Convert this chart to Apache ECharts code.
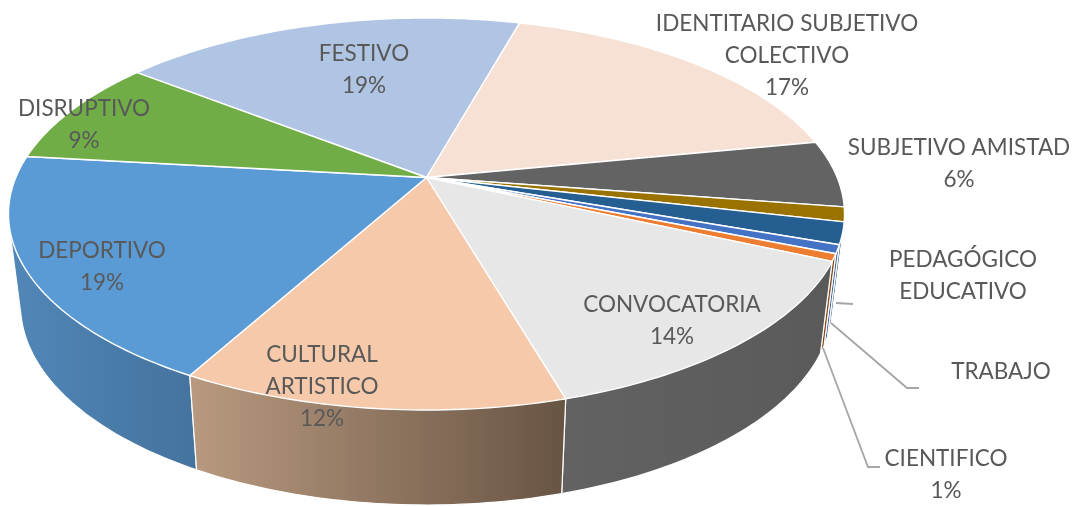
<!DOCTYPE html>
<html>
<head>
<meta charset="utf-8">
<style>html,body{margin:0;padding:0;background:#fff}#c{width:1083px;height:506px}</style>
<script src="https://cdn.jsdelivr.net/npm/echarts@6/dist/echarts.min.js"></script>
</head>
<body>
<div id="c"></div>
<script>
// ---- data (clockwise from the FESTIVO slice) ----
const categories = ['FESTIVO','IDENTITARIO SUBJETIVO COLECTIVO','SUBJETIVO AMISTAD','','PEDAGÓGICO EDUCATIVO','TRABAJO','CIENTIFICO','CONVOCATORIA','CULTURAL ARTISTICO','DEPORTIVO','DISRUPTIVO'];
const shares = [18.7,17.6,5.5,1.2,1.8,0.7,0.6,13.8,12.5,18.8,8.8];
const labelLines = [
  ['FESTIVO','19%'],['IDENTITARIO SUBJETIVO','COLECTIVO','17%'],['SUBJETIVO AMISTAD','6%'],[],
  ['PEDAGÓGICO','EDUCATIVO'],['TRABAJO'],['CIENTIFICO','1%'],['CONVOCATORIA','14%'],
  ['CULTURAL','ARTISTICO','12%'],['DEPORTIVO','19%'],['DISRUPTIVO','9%']
];
// ---- styling ----
const topColors = ['#B0C4E3','#F6E1D4','#636363','#9A7200','#255E91','#4472C4','#ED7D31','#E7E7E7','#F5C9AA','#5B9BD5','#70AD47'];
const wallColors = [
  ['#7a8ca8','#7a8ca8'],['#aa9c92','#aa9c92'],['#555555','#555555'],['#6c5000','#6c5000'],['#3d5f80','#3d5f80'],
  ['#3a5f9e','#3a5f9e'],['#8a4a1c','#8a4a1c'],['#626262','#5a5a5a'],['#B99A80','#685443'],['#5187B8','#44739E'],['#4e7a32','#4e7a32']
];
const labelCenters = [[364,69.5],[787,55.5],[959,163.5],null,[963,275.5],[1001,371.5],[946,474.5],[672,320.5],[322,386.5],[102,266.5],[84,124.5]];
const leaders = [
  [[836,303],[853,304]],
  [[831,323],[907,388],[919,388]],
  [[823,348],[868,467],[880,467]]
];
const startDeg = -51.8;
// projection of the tilted disc
const apex = {x:426.5, y:177.5}, A = 410.7, B = 189.2, K = 0.1862;
const topEll = {x:427, y:214, rx:418, ry:196};
const botEll = {x:427, y:305, rx:406, ry:200};

const total = shares.reduce((a,b)=>a+b,0);
const bounds = [startDeg];
shares.forEach(v => bounds.push(bounds[bounds.length-1] + v/total*360));

function topPt(deg){
  const t = deg*Math.PI/180, u = Math.sin(t), v = Math.cos(t), w = 1 + K*v;
  return [apex.x + A*u/w, apex.y - B*v/w];
}
function botPt(deg){
  const p = topPt(deg);
  const nx = (p[0]-topEll.x)/topEll.rx, ny = (p[1]-topEll.y)/topEll.ry;
  return [botEll.x + botEll.rx*nx, botEll.y + botEll.ry*ny];
}
function arc(fn, a, b){
  const n = Math.max(2, Math.ceil(Math.abs(b-a)));
  const out = [];
  for (let i=0;i<=n;i++) out.push(fn(a+(b-a)*i/n));
  return out;
}
// the wall swept between the two rims is the hull of its two arcs
function hull(points){
  const p = points.slice().sort((a,b)=>a[0]-b[0]||a[1]-b[1]);
  const cross=(o,a,b)=>(a[0]-o[0])*(b[1]-o[1])-(a[1]-o[1])*(b[0]-o[0]);
  const half = list => { const h=[]; list.forEach(q=>{ while(h.length>1&&cross(h[h.length-2],h[h.length-1],q)<=0) h.pop(); h.push(q); }); h.pop(); return h; };
  return half(p).concat(half(p.slice().reverse()));
}
const sliceData = shares.map((v,i)=>[i,v]);
// walls painted back to front
const wallOrder = sliceData.slice().sort((p,q)=>{
  const mid = i => (bounds[i]+bounds[i+1])/2;
  return Math.abs(mid(q[0])-180) - Math.abs(mid(p[0])-180);
});

const option = {
  animation:false,
  backgroundColor:'#fff',
  series:[
    { type:'custom', name:'walls', coordinateSystem:'none', silent:true, z:1, data:wallOrder,
      renderItem:(params,api)=>{
        const i = api.value(0), a = bounds[i], b = bounds[i+1];
        const pts = hull(arc(topPt,a,b).concat(arc(botPt,a,b)));
        return {type:'polygon', shape:{points:pts},
          style:{fill:{type:'linear',x:0,y:0,x2:1,y2:0,colorStops:[{offset:0,color:wallColors[i][0]},{offset:1,color:wallColors[i][1]}]},
                 stroke:'#fff', lineWidth:1.2}};
      }},
    { type:'custom', name:'tops', coordinateSystem:'none', silent:true, z:2, data:sliceData,
      renderItem:(params,api)=>{
        const i = api.value(0);
        const pts = [[apex.x,apex.y]].concat(arc(topPt,bounds[i],bounds[i+1]));
        return {type:'polygon', shape:{points:pts},
          style:{fill:topColors[i], stroke:'#fff', lineWidth:1.4, lineJoin:'round'}};
      }},
    { type:'custom', name:'leaders', coordinateSystem:'none', silent:true, z:3, data:leaders.map((l,i)=>[i]),
      renderItem:(params,api)=>({type:'polyline', shape:{points:leaders[api.value(0)]},
        style:{fill:null, stroke:'#a6a6a6', lineWidth:1.8}})},
    { type:'custom', name:'labels', coordinateSystem:'none', silent:true, z:4, data:sliceData,
      renderItem:(params,api)=>{
        const i = api.value(0);
        if (!labelCenters[i]) return {type:'group',children:[]};
        return {type:'text', x:labelCenters[i][0], y:labelCenters[i][1],
          style:{text:labelLines[i].join('\n'), fill:'#595959', font:'22.5px Lato', lineHeight:32,
                 align:'center', verticalAlign:'middle'}};
      }}
  ]
};
echarts.init(document.getElementById('c'),null,{renderer:'canvas'}).setOption(option);
</script>
</body>
</html>
